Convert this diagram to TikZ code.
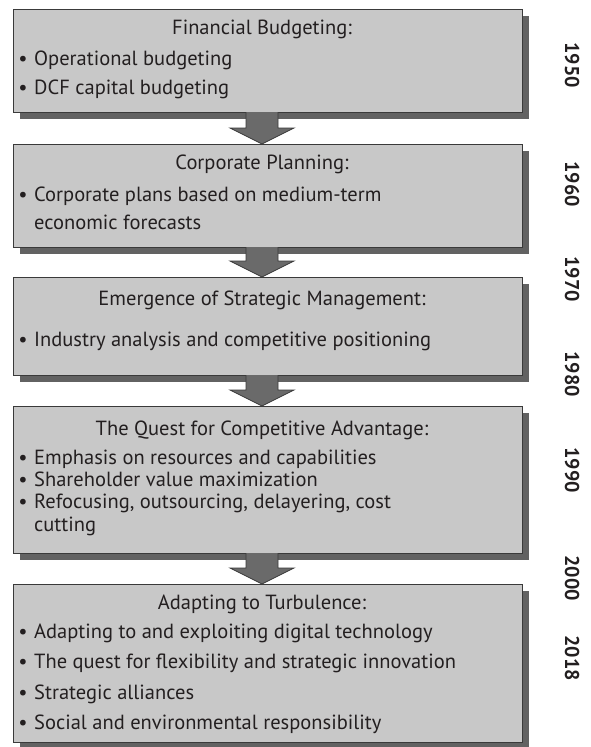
\documentclass[tikz,border=0pt]{standalone}
\usepackage{fontspec}
\setmainfont{PT Sans}
\usetikzlibrary{shadows,calc}
\definecolor{boxfill}{HTML}{C8C8C8}
\definecolor{boxline}{HTML}{3A3A3A}
\definecolor{shadowc}{HTML}{626262}
\definecolor{arrowc}{HTML}{6A6A6A}
\definecolor{textc}{HTML}{231F20}
\begin{document}
\begin{tikzpicture}[x=1pt,y=-1pt,
  box/.style={draw=boxline, fill=boxfill, line width=1pt, rectangle, anchor=north west,
    minimum width=509pt, inner sep=0pt,
    drop shadow={shadow xshift=6pt, shadow yshift=-6pt, fill=shadowc, opacity=1}},
  txt/.style={font=\fontsize{20.5}{24}\selectfont, text=textc, inner sep=0pt, anchor=base west},
  ttl/.style={font=\fontsize{20.5}{24}\selectfont, text=textc, inner sep=0pt, anchor=base},
  bul/.style={font=\fontsize{20.5}{24}\selectfont, text=textc, inner sep=0pt, anchor=base},
  yr/.style={font=\fontsize{20}{24}\selectfont\bfseries, text=textc, rotate=-90, inner sep=0pt},
  arr/.style={fill=arrowc, draw=boxline, line width=0.8pt, line join=miter}]
\useasboundingbox (0,0) rectangle (591,747);
\coordinate (ax) at (262,0);

\node[box, minimum height=103pt] (b1) at (13,9) {};
\node[box, minimum height=103pt] (b2) at (13,144) {};
\node[box, minimum height=98pt] (b3) at (13,277) {};
\node[box, minimum height=147pt] (b4) at (13,406) {};
\node[box, minimum height=158pt] (b5) at (13,584) {};

% arrows
\foreach \a/\b in {b1/b2,b2/b3,b3/b4,b4/b5}{
  \path[arr] ($(\a.south -| ax)+(-16,-1)$) -- ($(\b.north -| ax)+(-16,-16)$)
    -- ($(\b.north -| ax)+(-32,-16)$) -- (\b.north -| ax)
    -- ($(\b.north -| ax)+(32,-16)$) -- ($(\b.north -| ax)+(16,-16)$)
    -- ($(\a.south -| ax)+(16,-1)$);
}

% box 1
\node[ttl] (t1) at (262,34) {Financial Budgeting:};
\node[bul] (u11) at (23,65) {•};
\node[txt] (l11) at (34,65) {Operational budgeting};
\node[bul] (u12) at (23,94) {•};
\node[txt] (l12) at (34,94) {DCF capital budgeting};

% box 2
\node[ttl] (t2) at (262,169) {Corporate Planning:};
\node[bul] (u21) at (23,201) {•};
\node[txt] (l21) at (34,201) {Corporate plans based on medium-term};
\node[txt] (l22) at (34,229) {economic forecasts};

% box 3
\node[ttl] (t3) at (262,305) {Emergence of Strategic Management:};
\node[bul] (u31) at (23,346) {•};
\node[txt] (l31) at (34,346) {Industry analysis and competitive positioning};

% box 4
\node[ttl] (t4) at (262,435) {The Quest for Competitive Advantage:};
\node[bul] (u41) at (23,464) {•};
\node[txt] (l41) at (34,464) {Emphasis on resources and capabilities};
\node[bul] (u42) at (23,486) {•};
\node[txt] (l42) at (34,486) {Shareholder value maximization};
\node[bul] (u43) at (23,508) {•};
\node[txt] (l43) at (34,508) {Refocusing, outsourcing, delayering, cost};
\node[txt] (l44) at (34,531) {cutting};

% box 5
\node[ttl] (t5) at (262,609) {Adapting to Turbulence:};
\node[bul] (u51) at (23,638) {•};
\node[txt] (l51) at (34,638) {Adapting to and exploiting digital technology};
\node[bul] (u52) at (23,668) {•};
\node[txt] (l52) at (34,668) {The quest for flexibility and strategic innovation};
\node[bul] (u53) at (23,699) {•};
\node[txt] (l53) at (34,699) {Strategic alliances};
\node[bul] (u54) at (23,729) {•};
\node[txt] (l54) at (34,729) {Social and environmental responsibility};

% years
\node[yr] (y1) at (572,65) {1950};
\node[yr] (y2) at (572,184) {1960};
\node[yr] (y3) at (572,279) {1970};
\node[yr] (y4) at (572,374) {1980};
\node[yr] (y5) at (572,470) {1990};
\node[yr] (y6) at (572,578) {2000};
\node[yr] (y7) at (572,658) {2018};
\end{tikzpicture}
\end{document}
